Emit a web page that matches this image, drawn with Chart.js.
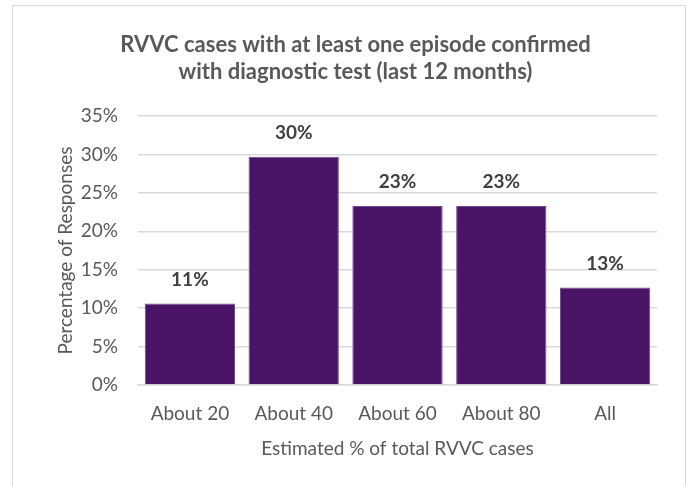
<!DOCTYPE html>
<html>
<head>
<meta charset="utf-8">
<script src="https://cdn.jsdelivr.net/npm/chart.js@4"></script>
<style>
  html, body { margin: 0; padding: 0; background: #fff; overflow: hidden; }
  #frame { position: absolute; left: 12px; top: 5px; width: 672px; height: 500px; border: 1px solid #d9d9d9; }
  #chart { position: absolute; left: 0; top: 0; }
</style>
</head>
<body>
<div id="frame"></div>
<canvas id="chart" width="687" height="486"></canvas>
<script>
// values
const categories = ['About 20', 'About 40', 'About 60', 'About 80', 'All'];
const responses = [10.6, 29.7, 23.3, 23.3, 12.7];
const yTicks = [0, 5, 10, 15, 20, 25, 30, 35];

const textColor = '#595959';
const barColor = '#4a1466';

// draws the bold value labels above each bar
const valueLabels = {
  id: 'valueLabels',
  afterDatasetsDraw(chart) {
    const ctx = chart.ctx;
    const meta = chart.getDatasetMeta(0);
    ctx.save();
    ctx.font = 'bold 19px Lato';
    ctx.fillStyle = '#404040';
    ctx.textAlign = 'center';
    ctx.textBaseline = 'middle';
    meta.data.forEach((bar, i) => {
      ctx.fillText(Math.round(responses[i]) + '%', bar.x, bar.y - 24);
    });
    ctx.restore();
  }
};

new Chart(document.getElementById('chart'), {
  type: 'bar',
  data: {
    labels: categories,
    datasets: [{
      data: responses,
      backgroundColor: barColor,
      borderColor: '#6e4a88',
      borderWidth: 1,
      barPercentage: 0.87,
      categoryPercentage: 1
    }]
  },
  options: {
    responsive: false,
    animation: false,
    devicePixelRatio: 1,
    layout: { padding: { left: 54, right: 30, top: 14, bottom: 0 } },
    plugins: {
      legend: { display: false },
      tooltip: { enabled: false },
      title: {
        display: true,
        text: ['RVVC cases with at least one episode confirmed', 'with diagnostic test (last 12 months)'],
        color: textColor,
        font: { family: 'Lato', size: 22, weight: 'bold', lineHeight: 1.23 },
        padding: { top: 17, bottom: 31 }
      }
    },
    scales: {
      y: {
        min: 0,
        max: 35,
        afterBuildTicks(scale) { scale.ticks = yTicks.map(v => ({ value: v })); },
        afterFit(scale) { scale.width = 84; },
        grid: { color: '#d9d9d9', lineWidth: 1.5, drawTicks: false },
        border: { display: false },
        ticks: {
          color: textColor,
          font: { family: 'Lato', size: 19 },
          padding: 20,
          callback: v => v + '%'
        },
        title: {
          display: true,
          text: 'Percentage of Responses',
          color: textColor,
          font: { family: 'Lato', size: 19 },
          padding: 0
        }
      },
      x: {
        afterFit(scale) { scale.height = 101; },
        grid: { display: false },
        border: { color: '#d9d9d9', width: 1.5 },
        ticks: {
          color: textColor,
          font: { family: 'Lato', size: 19 },
          padding: 9
        },
        title: {
          display: true,
          text: 'Estimated % of total RVVC cases',
          color: textColor,
          font: { family: 'Lato', size: 19 },
          padding: { top: 12, bottom: 26 }
        }
      }
    }
  },
  plugins: [valueLabels]
});
</script>
</body>
</html>
